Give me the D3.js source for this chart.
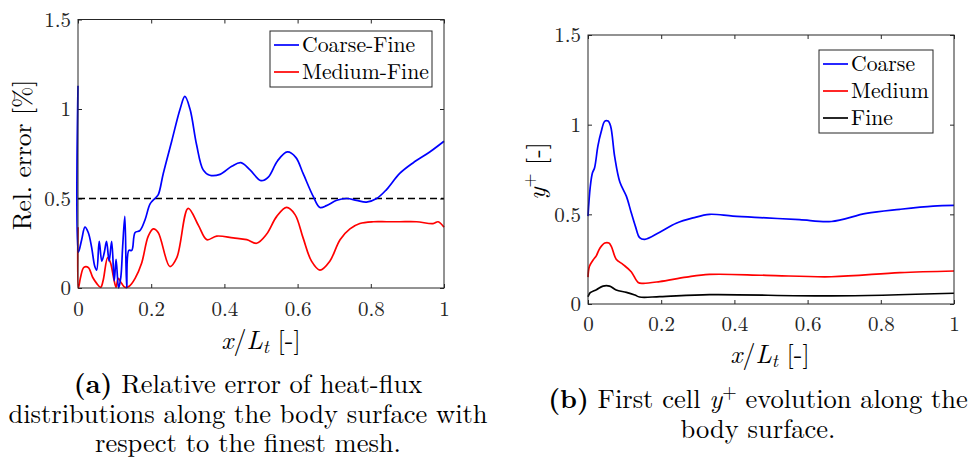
<!DOCTYPE html>
<html>
<head>
<meta charset="utf-8">
<script src="https://cdn.jsdelivr.net/npm/d3@7"></script>
<style>
  body { margin: 0; background: #fff; }
  svg text { font-family: "Latin Modern Roman", "Liberation Serif", serif; }
</style>
</head>
<body>
<svg id="fig" width="974" height="462"></svg>
<script>
// ---- data ----
const xTicks = [0, 0.2, 0.4, 0.6, 0.8, 1];
const yTicks = [0, 0.5, 1, 1.5];
const threshold = 0.5;

// (a) relative error
const cfX = [0, 0.001, 0.010, 0.019, 0.028, 0.037, 0.046, 0.051, 0.058, 0.065, 0.072, 0.078, 0.085, 0.092, 0.099, 0.104, 0.111, 0.117, 0.122, 0.128, 0.133, 0.139, 0.147, 0.156, 0.169, 0.183, 0.197, 0.210, 0.219, 0.233, 0.256, 0.279, 0.292, 0.306, 0.324, 0.342, 0.360, 0.388, 0.420, 0.445, 0.470, 0.500, 0.520, 0.545, 0.572, 0.595, 0.615, 0.643, 0.661, 0.679, 0.707, 0.734, 0.761, 0.788, 0.816, 0.843, 0.879, 0.916, 0.961, 1.0];
const cfY = [1.13, 0.20, 0.27, 0.34, 0.31, 0.23, 0.12, 0.10, 0.26, 0.15, 0.20, 0.26, 0.15, 0.26, 0.04, 0.16, 0.0, 0.06, 0.23, 0.40, 0.0, 0.21, 0.21, 0.31, 0.32, 0.38, 0.47, 0.50, 0.52, 0.64, 0.82, 1.00, 1.07, 1.00, 0.80, 0.66, 0.63, 0.635, 0.68, 0.70, 0.66, 0.60, 0.62, 0.71, 0.76, 0.73, 0.64, 0.51, 0.45, 0.46, 0.49, 0.50, 0.49, 0.48, 0.50, 0.55, 0.64, 0.70, 0.76, 0.82];
const mfX = [0, 0.001, 0.007, 0.016, 0.028, 0.040, 0.051, 0.062, 0.069, 0.081, 0.089, 0.097, 0.104, 0.110, 0.119, 0.128, 0.140, 0.156, 0.174, 0.192, 0.206, 0.219, 0.251, 0.270, 0.301, 0.329, 0.352, 0.379, 0.424, 0.461, 0.488, 0.515, 0.543, 0.570, 0.593, 0.615, 0.638, 0.661, 0.688, 0.716, 0.743, 0.770, 0.807, 0.843, 0.879, 0.925, 0.970, 0.984, 1.0];
const mfY = [0.34, 0.0, 0.06, 0.115, 0.115, 0.06, 0.026, 0.004, 0.045, 0.17, 0.14, 0.06, 0.004, 0.054, 0.026, 0.004, 0.01, 0.054, 0.14, 0.29, 0.33, 0.31, 0.12, 0.17, 0.445, 0.35, 0.27, 0.29, 0.28, 0.27, 0.25, 0.30, 0.40, 0.45, 0.41, 0.28, 0.15, 0.10, 0.15, 0.27, 0.33, 0.36, 0.37, 0.37, 0.37, 0.37, 0.36, 0.37, 0.34];

// (b) first cell y+
const coarseX = [0, 0.006, 0.012, 0.018, 0.027, 0.036, 0.046, 0.055, 0.062, 0.073, 0.087, 0.105, 0.118, 0.130, 0.141, 0.155, 0.196, 0.241, 0.287, 0.332, 0.396, 0.487, 0.578, 0.665, 0.760, 0.852, 0.943, 1.0];
const coarseY = [0.49, 0.65, 0.73, 0.76, 0.88, 0.96, 1.02, 1.02, 0.99, 0.82, 0.68, 0.60, 0.51, 0.43, 0.37, 0.36, 0.40, 0.45, 0.48, 0.50, 0.49, 0.48, 0.47, 0.46, 0.505, 0.528, 0.546, 0.55];
const mediumX = [0, 0.004, 0.014, 0.023, 0.032, 0.046, 0.057, 0.064, 0.077, 0.096, 0.118, 0.137, 0.150, 0.196, 0.269, 0.332, 0.487, 0.665, 0.852, 1.0];
const mediumY = [0.15, 0.21, 0.245, 0.27, 0.31, 0.34, 0.34, 0.32, 0.25, 0.22, 0.18, 0.12, 0.115, 0.125, 0.15, 0.165, 0.16, 0.152, 0.175, 0.184];
const fineX = [0, 0.006, 0.023, 0.041, 0.059, 0.077, 0.105, 0.128, 0.141, 0.196, 0.332, 0.665, 1.0];
const fineY = [0.04, 0.063, 0.08, 0.10, 0.10, 0.078, 0.065, 0.05, 0.039, 0.041, 0.052, 0.045, 0.06];

const svg = d3.select("#fig");
const ink = "#262626";

function zip(xs, ys) { return xs.map((x, i) => [x, ys[i]]); }

// one MATLAB-like axes box with inward ticks on all four sides
function makeAxes(box) {
    const sx = d3.scaleLinear().domain([0, 1]).range([box.x0, box.x1]);
    const sy = d3.scaleLinear().domain([0, 1.5]).range([box.y1, box.y0]);
    const g = svg.append("g");

    g.append("g").attr("transform", `translate(0,${box.y1})`)
        .call(d3.axisBottom(sx).tickValues(xTicks).tickSizeInner(-4).tickSizeOuter(0)
            .tickPadding(box.xPad).tickFormat(d3.format("")));
    g.append("g").attr("transform", `translate(${box.x0},0)`)
        .call(d3.axisLeft(sy).tickValues(yTicks).tickSizeInner(-4).tickSizeOuter(0)
            .tickPadding(7).tickFormat(d3.format("")));
    g.append("g").attr("transform", `translate(0,${box.y0})`)
        .call(d3.axisTop(sx).tickValues(xTicks).tickSizeInner(-4).tickSizeOuter(0).tickFormat(""));
    g.append("g").attr("transform", `translate(${box.x1},0)`)
        .call(d3.axisRight(sy).tickValues(yTicks).tickSizeInner(-4).tickSizeOuter(0).tickFormat(""));

    g.selectAll(".domain").remove();
    g.selectAll(".tick line").attr("stroke", ink);
    g.selectAll(".tick text").attr("fill", ink).style("font-size", "21px");

    return { sx, sy, g, box };
}

function frame(ax) {
    const b = ax.box;
    ax.g.append("rect")
        .attr("x", b.x0).attr("y", b.y0)
        .attr("width", b.x1 - b.x0).attr("height", b.y1 - b.y0)
        .attr("fill", "none").attr("stroke", ink).attr("stroke-width", 1);
}

function drawLine(ax, pts, color) {
    const line = d3.line()
        .x(d => ax.sx(d[0])).y(d => ax.sy(d[1]))
        .curve(d3.curveCatmullRom.alpha(0.5));
    ax.g.append("path")
        .attr("d", line(pts))
        .attr("fill", "none").attr("stroke", color)
        .attr("stroke-width", 1.7).attr("stroke-linejoin", "round");
}

function legend(ax, x, y, w, items) {
    const lg = ax.g.append("g");
    const rowH = 27;
    lg.append("rect")
        .attr("x", x).attr("y", y)
        .attr("width", w).attr("height", rowH * items.length + 2)
        .attr("fill", "#fff").attr("stroke", ink).attr("stroke-width", 1);
    items.forEach((it, i) => {
        const cy = y + 14 + i * rowH;
        lg.append("line")
            .attr("x1", x + 4).attr("x2", x + 29)
            .attr("y1", cy).attr("y2", cy)
            .attr("stroke", it.color).attr("stroke-width", 1.7);
        lg.append("text")
            .attr("x", x + 32).attr("y", cy).attr("dy", "0.34em")
            .style("font-size", "21.7px").attr("fill", "#000")
            .text(it.name);
    });
}

function xLabel(cx, y) {
    const t = svg.append("text")
        .attr("x", cx).attr("y", y).attr("text-anchor", "middle")
        .style("font-size", "26px");
    t.append("tspan").attr("font-style", "italic").text("x");
    t.append("tspan").text("/");
    t.append("tspan").attr("font-style", "italic").text("L");
    t.append("tspan").attr("font-style", "italic").attr("dy", 4).style("font-size", "18.5px").text("t");
    t.append("tspan").attr("dy", -4).text(" [-]");
}

// ---- (a) ----
const axA = makeAxes({ x0: 78, x1: 444, y0: 19.5, y1: 288, xPad: 13 });
axA.g.append("line")
    .attr("x1", axA.sx(0)).attr("x2", axA.sx(1))
    .attr("y1", axA.sy(threshold)).attr("y2", axA.sy(threshold))
    .attr("stroke", "#000").attr("stroke-width", 1.6).attr("stroke-dasharray", "7,4");
drawLine(axA, zip(mfX, mfY), "#ff0000");
drawLine(axA, zip(cfX, cfY), "#0000ff");
frame(axA);
legend(axA, 270, 31, 162, [
    { name: "Coarse-Fine", color: "#0000ff" },
    { name: "Medium-Fine", color: "#ff0000" }
]);

svg.append("text")
    .attr("transform", "translate(31,155) rotate(-90)")
    .attr("text-anchor", "middle").style("font-size", "25.5px")
    .text("Rel. error [%]");
xLabel(261, 349);

// ---- (b) ----
const axB = makeAxes({ x0: 588, x1: 954, y0: 35, y1: 304, xPad: 12 });
drawLine(axB, zip(fineX, fineY), "#000000");
drawLine(axB, zip(mediumX, mediumY), "#ff0000");
drawLine(axB, zip(coarseX, coarseY), "#0000ff");
frame(axB);
legend(axB, 819, 50, 114, [
    { name: "Coarse", color: "#0000ff" },
    { name: "Medium", color: "#ff0000" },
    { name: "Fine", color: "#000000" }
]);

const yl = svg.append("text")
    .attr("transform", "translate(545,171) rotate(-90)")
    .attr("text-anchor", "middle").style("font-size", "25.5px");
yl.append("tspan").attr("font-style", "italic").text("y");
yl.append("tspan").attr("dy", -10).style("font-size", "18px").text("+");
yl.append("tspan").attr("dy", 10).text(" [-]");
xLabel(770, 363);

// ---- captions ----
function caption(cx, y, lines) {
    lines.forEach((ln, i) => {
        const t = svg.append("text")
            .attr("x", cx).attr("y", y + i * 29.5)
            .attr("text-anchor", "middle").style("font-size", "26.5px");
        ln.forEach(part => {
            const s = t.append("tspan").text(part.t);
            if (part.b) s.attr("font-weight", "bold");
            if (part.i) s.attr("font-style", "italic");
            if (part.sup) s.attr("dy", -10).style("font-size", "18.5px");
            if (part.down) s.attr("dy", 10);
        });
    });
}
caption(248, 393, [
    [{ t: "(a)", b: true }, { t: " Relative error of heat-flux" }],
    [{ t: "distributions along the body surface with" }],
    [{ t: "respect to the finest mesh." }]
]);
caption(758, 408, [
    [{ t: "(b)", b: true }, { t: " First cell " }, { t: "y", i: true }, { t: "+", sup: true }, { t: " evolution along the", down: true }],
    [{ t: "body surface." }]
]);
</script>
</body>
</html>
